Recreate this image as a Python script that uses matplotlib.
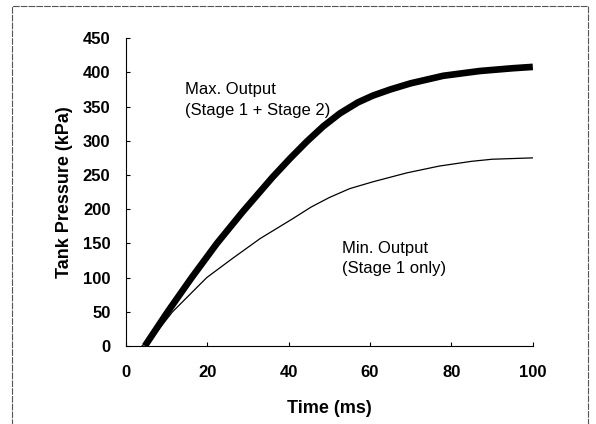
import numpy as np
import matplotlib.pyplot as plt
from matplotlib.patches import Rectangle

# Datos (t en ms, p en kPa)
t_max = [4.7, 10.3, 16.2, 22.4, 28.7, 36.1, 40.5, 44.5, 48.5, 52.6, 57, 60.7, 65, 70, 78, 87, 95, 100]
p_max = [0, 50, 100, 150, 196, 247, 275, 299, 321, 340, 356, 366, 375, 384, 395, 402, 406, 408]

t_min = [4.0, 6.6, 11.5, 19.9, 26, 33, 41, 45.5, 50, 55, 60.7, 69, 77, 85, 90, 100]
p_min = [0, 13, 50, 100, 127, 157, 186, 203, 217, 230, 240, 253, 263, 270, 273, 275]

x_ticks = [0, 20, 40, 60, 80, 100]
y_ticks = [0, 50, 100, 150, 200, 250, 300, 350, 400, 450]

plt.rcParams['font.family'] = ['Liberation Sans', 'DejaVu Sans']

fig = plt.figure(figsize=(5.96, 4.24), dpi=100)
ax = fig.add_axes([0.211, 0.184, 0.683, 0.726])

# marco exterior (escaneado)
fig.patches.append(Rectangle((0.02, -0.01), 0.967, 0.996, transform=fig.transFigure,
                             fill=False, edgecolor='#555555', linewidth=0.8,
                             linestyle=(0, (6, 1))))

ax.plot(t_max, p_max, color='black', linewidth=4.8, solid_capstyle='butt',
        solid_joinstyle='round')
ax.plot(t_min, p_min, color='black', linewidth=0.9, solid_joinstyle='round')

ax.text(14.5, 375, "Max. Output", fontsize=12, va='center', ha='left')
ax.text(14.5, 344, "(Stage 1 + Stage 2)", fontsize=12, va='center', ha='left')
ax.text(53, 143, "Min. Output", fontsize=12, va='center', ha='left')
ax.text(53, 113, "(Stage 1 only)", fontsize=12, va='center', ha='left')

ax.set_xlim(0, 100)
ax.set_ylim(0, 450)
ax.set_xticks(x_ticks)
ax.set_yticks(y_ticks)
ax.tick_params(direction='in', length=3, width=0.8, labelsize=12)
ax.tick_params(axis='x', pad=14)
ax.tick_params(axis='y', pad=11)
for lab in ax.get_xticklabels() + ax.get_yticklabels():
    lab.set_fontweight('bold')
ax.spines['top'].set_visible(False)
ax.spines['right'].set_visible(False)
ax.set_xlabel("Time (ms)", fontsize=13, fontweight='bold')
ax.set_ylabel("Tank Pressure (kPa)", fontsize=13, fontweight='bold')
ax.xaxis.set_label_coords(0.5, -0.175)
ax.yaxis.set_label_coords(-0.13, 0.5)

fig.savefig("out.png", dpi=100)
